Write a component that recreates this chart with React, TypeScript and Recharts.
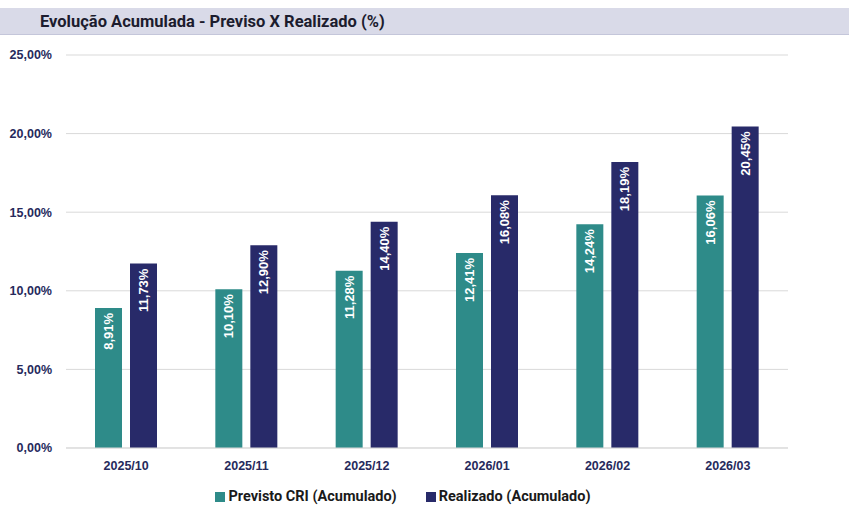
import React from 'react';
import { BarChart, Bar, XAxis, YAxis, CartesianGrid, Legend, LabelList } from 'recharts';

const categories = ['2025/10', '2025/11', '2025/12', '2026/01', '2026/02', '2026/03'];
const previsto = [8.91, 10.10, 11.28, 12.41, 14.24, 16.06];
const realizado = [11.73, 12.90, 14.40, 16.08, 18.19, 20.45];
const yTicks = [0, 5, 10, 15, 20, 25];

const data = categories.map((c, i) => ({ cat: c, previsto: previsto[i], realizado: realizado[i] }));

const fmt = (v: number) => v.toFixed(2).replace('.', ',') + '%';

const TEAL = '#2e8b89';
const NAVY = '#282a69';
const TICK = '#262a5c';

const RotLabel = (props: any) => {
  const { x, y, width, value } = props;
  const cx = x + width / 2;
  const ty = y + 5;
  return (
    <text
      x={cx}
      y={ty}
      transform={`rotate(-90, ${cx}, ${ty})`}
      textAnchor="end"
      dominantBaseline="central"
      fill="#ffffff"
      fontSize={13}
      fontWeight="bold"
      fontFamily="'Liberation Sans', Arial, sans-serif"
    >
      {fmt(value)}
    </text>
  );
};

const LegendContent = () => (
  <div style={{ display: 'flex', justifyContent: 'center', gap: 29, fontFamily: 'Roboto, sans-serif', fontWeight: 'bold', fontSize: 14.5, color: '#1a1a1a', paddingLeft: 18, paddingTop: 10 }}>
    <div style={{ display: 'flex', alignItems: 'center' }}>
      <span style={{ width: 10, height: 10, background: TEAL, display: 'inline-block', marginRight: 3 }} />
      Previsto CRI (Acumulado)
    </div>
    <div style={{ display: 'flex', alignItems: 'center' }}>
      <span style={{ width: 10, height: 10, background: NAVY, display: 'inline-block', marginRight: 3 }} />
      Realizado (Acumulado)
    </div>
  </div>
);

export default function App() {
  return (
    <div style={{ position: 'absolute', left: 0, top: 0, width: 849, height: 515, background: '#fff', overflow: 'hidden' }}>
      <div
        style={{
          position: 'absolute', left: 0, top: 8, width: 849, height: 27,
          background: '#d9dae8', borderBottom: '1px solid #c4c6da',
          fontFamily: 'Roboto, sans-serif', fontWeight: 'bold', fontSize: 16.5, color: '#1c1c2e',
          lineHeight: '27px', paddingLeft: 40, boxSizing: 'border-box',
        }}
      >
        Evolução Acumulada - Previso X Realizado (%)
      </div>
      <div style={{ position: 'absolute', left: 0, top: 0 }}>
        <BarChart
          width={849}
          height={515}
          data={data}
          margin={{ top: 55, right: 61, left: 0, bottom: 8 }}
          barSize={27}
          barGap={8}
        >
          <CartesianGrid vertical={false} stroke="#d9d9d9" strokeWidth={1} />
          <XAxis
            dataKey="cat"
            axisLine={{ stroke: '#d9d9d9' }}
            tickLine={false}
            tick={{ fill: TICK, fontSize: 12.5, fontWeight: 'bold', fontFamily: "'Liberation Sans', Arial, sans-serif" }}
            tickMargin={7}
            height={30}
          />
          <YAxis
            domain={[0, 25]}
            ticks={yTicks}
            tickFormatter={(v: number) => fmt(v)}
            axisLine={false}
            tickLine={false}
            width={66}
            tickMargin={8}
            tick={{ fill: TICK, fontSize: 12.5, fontWeight: 'bold', fontFamily: "'Liberation Sans', Arial, sans-serif" }}
          />
          <Legend verticalAlign="bottom" height={29} content={<LegendContent />} />
          <Bar dataKey="previsto" name="Previsto CRI (Acumulado)" fill={TEAL} isAnimationActive={false}>
            <LabelList dataKey="previsto" content={<RotLabel />} />
          </Bar>
          <Bar dataKey="realizado" name="Realizado (Acumulado)" fill={NAVY} isAnimationActive={false}>
            <LabelList dataKey="realizado" content={<RotLabel />} />
          </Bar>
        </BarChart>
      </div>
    </div>
  );
}
